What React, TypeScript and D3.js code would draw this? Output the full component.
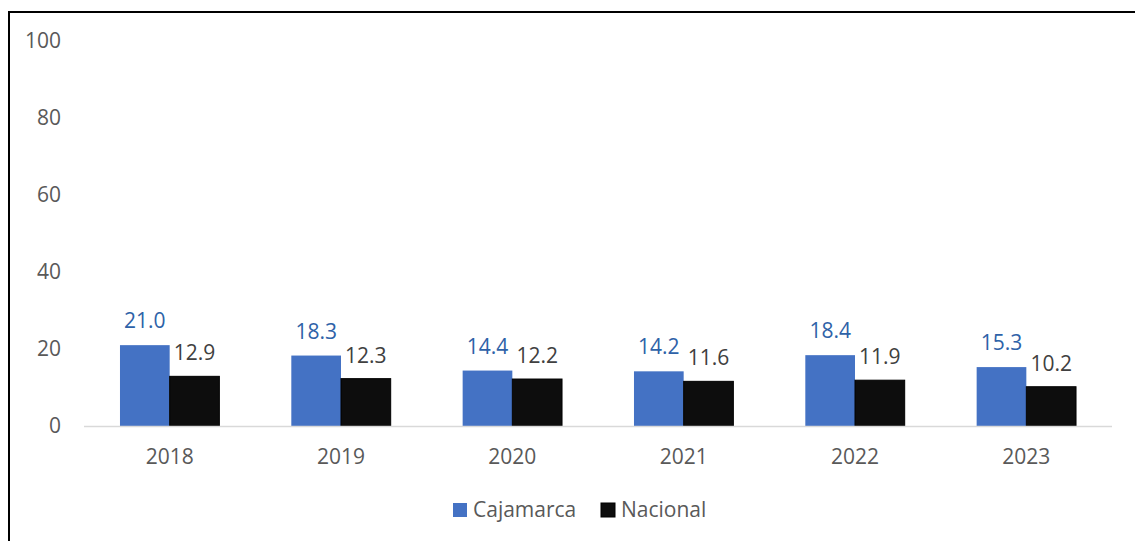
import React from 'react';
import * as d3 from 'd3';

const years = ['2018', '2019', '2020', '2021', '2022', '2023'];
const cajamarca = [21.0, 18.3, 14.4, 14.2, 18.4, 15.3];
const nacional = [12.9, 12.3, 12.2, 11.6, 11.9, 10.2];
const yTicks = [0, 20, 40, 60, 80, 100];
const seriesNames = ['Cajamarca', 'Nacional'];

const W = 1135;
const H = 541;
const font = '"Open Sans", sans-serif';
const fs = 21;

const App = () => {
  const x = d3.scaleBand().domain(years).range([84, 1112]).paddingInner(0.42).paddingOuter(0.21);
  const y = d3.scaleLinear().domain([0, 100]).range([426, 41]);
  const bw = x.bandwidth() / 2;

  return (
    <svg width={W} height={H} style={{ position: 'absolute', left: 0, top: 0 }}>
      <rect x={0} y={0} width={W} height={H} fill="#fff" />
      {/* outer frame */}
      <rect x={9} y={12} width={W + 20} height={H + 20} fill="none" stroke="#000" strokeWidth={2} />

      {/* y tick labels */}
      {yTicks.map(t => (
        <text key={t} x={61} y={y(t)} dy="0.35em" textAnchor="end" fontFamily={font} fontSize={fs} fill="#595959">
          {t}
        </text>
      ))}

      {/* bars */}
      {years.map((yr, i) => {
        const x0 = x(yr) as number;
        return (
          <g key={yr}>
            <rect x={x0} y={y(cajamarca[i])} width={bw} height={y(0) - y(cajamarca[i])} fill="#4472C4" />
            <rect x={x0 + bw} y={y(nacional[i])} width={bw} height={y(0) - y(nacional[i])} fill="#0D0D0D" stroke="#000" strokeWidth={1} />
            <text x={x0 + bw / 2} y={y(cajamarca[i]) - 17} textAnchor="middle" fontFamily={font} fontSize={fs} fill="#2E62A8">
              {cajamarca[i].toFixed(1)}
            </text>
            <text x={x0 + bw * 1.5} y={y(nacional[i]) - 16} textAnchor="middle" fontFamily={font} fontSize={fs} fill="#404040">
              {nacional[i].toFixed(1)}
            </text>
            <text x={x0 + bw} y={457} dy="0.35em" textAnchor="middle" fontFamily={font} fontSize={fs} fill="#595959">
              {yr}
            </text>
          </g>
        );
      })}

      {/* baseline */}
      <line x1={84} x2={1112} y1={y(0) + 0.5} y2={y(0) + 0.5} stroke="#D9D9D9" strokeWidth={1.5} />

      {/* legend */}
      <rect x={453} y={503} width={14} height={14} fill="#4472C4" />
      <text x={473} y={510} dy="0.35em" fontFamily={font} fontSize={fs} fill="#595959">{seriesNames[0]}</text>
      <rect x={601} y={503} width={14} height={14} fill="#0D0D0D" stroke="#000" strokeWidth={1} />
      <text x={621} y={510} dy="0.35em" fontFamily={font} fontSize={fs} fill="#595959">{seriesNames[1]}</text>
    </svg>
  );
};

export default App;
